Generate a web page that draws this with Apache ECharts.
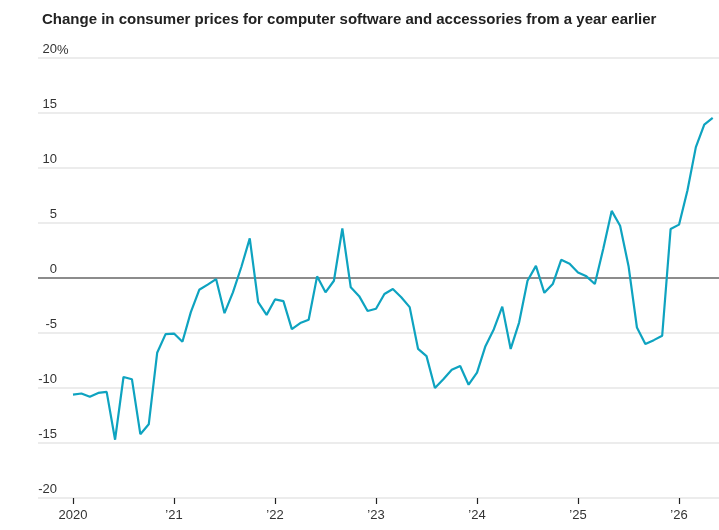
<!DOCTYPE html>
<html>
<head>
<meta charset="utf-8">
<script src="https://cdn.jsdelivr.net/npm/echarts@6/dist/echarts.min.js"></script>
<style>
  html, body { margin: 0; padding: 0; background: #fff; }
  #chart { width: 719px; height: 530px; }
</style>
</head>
<body>
<div id="chart"></div>
<script>
// year-over-year change, %, monthly, Jan 2020 .. May 2026
const y2020 = [-10.6, -10.5, -10.8, -10.45, -10.35, -14.7, -9.0, -9.2, -14.2, -13.3, -6.8, -5.1]
const y2021 = [-5.05, -5.8, -3.1, -1.07, -0.6, -0.1, -3.2, -1.3, 1.0, 3.6, -2.2, -3.35]
const y2022 = [-1.95, -2.1, -4.65, -4.1, -3.8, 0.15, -1.3, -0.25, 4.5, -0.85, -1.65, -3.0]
const y2023 = [-2.8, -1.45, -1.0, -1.75, -2.65, -6.45, -7.1, -10.0, -9.2, -8.35, -8.0, -9.7]
const y2024 = [-8.6, -6.2, -4.65, -2.6, -6.45, -4.05, -0.25, 1.1, -1.35, -0.55, 1.65, 1.3]
const y2025 = [0.5, 0.15, -0.55, 2.65, 6.1, 4.75, 1.1, -4.5, -6.0, -5.65, -5.25, 4.45]
const y2026 = [4.85, 7.95, 11.9, 13.95, 14.55]

const values = [].concat(y2020, y2021, y2022, y2023, y2024, y2025, y2026)
const yearTicks = [0, 12, 24, 36, 48, 60, 72]
const yearLabels = ['2020', '\u201921', '\u201922', '\u201923', '\u201924', '\u201925', '\u201926']

const gridColor = '#e6e6e6'
const labelColor = '#333'
const font = '"Liberation Sans", Arial, sans-serif'

const chart = echarts.init(document.getElementById('chart'))

chart.setOption({
  animation: false,
  title: {
    text: 'Change in consumer prices for computer software and accessories from a year earlier',
    left: 37,
    top: 7,
    textStyle: {
      fontFamily: font,
      fontWeight: 'bold',
      fontSize: 15,
      color: '#222'
    }
  },
  grid: { left: 38, right: 0, top: 58, bottom: 32 },
  xAxis: {
    type: 'value',
    min: -4.158,
    max: 76.75,
    splitLine: { show: false },
    axisLine: { show: false, onZero: false },
    axisTick: {
      show: true,
      customValues: yearTicks,
      length: 6,
      lineStyle: { color: '#222', width: 1.2 }
    },
    axisLabel: {
      customValues: yearTicks,
      formatter: v => yearLabels[yearTicks.indexOf(v)],
      color: labelColor,
      fontSize: 13,
      margin: 11,
      fontFamily: font
    }
  },
  yAxis: {
    type: 'value',
    min: -20,
    max: 20,
    interval: 5,
    axisLine: { show: false },
    axisTick: { show: false },
    splitLine: {
      lineStyle: {
        width: 1.5,
        color: [gridColor, gridColor, gridColor, gridColor, '#666', gridColor, gridColor, gridColor, gridColor]
      }
    },
    axisLabel: {
      inside: true,
      align: 'right',
      verticalAlign: 'bottom',
      margin: 19,
      padding: [0, 0, 2, 0],
      color: labelColor,
      fontSize: 13,
      fontFamily: font,
      formatter: v => (v < 0 ? '-' + Math.abs(v) : String(v))
    }
  },
  graphic: [{
    type: 'text',
    left: 57,
    top: 44,
    style: {
      text: '%',
      fill: labelColor,
      fontSize: 13,
      fontFamily: font
    }
  }],
  series: [{
    type: 'line',
    data: values.map((v, i) => [i, v]),
    showSymbol: false,
    lineStyle: { color: '#0ea3c0', width: 2.2 },
    itemStyle: { color: '#0ea3c0' }
  }]
})
</script>
</body>
</html>
